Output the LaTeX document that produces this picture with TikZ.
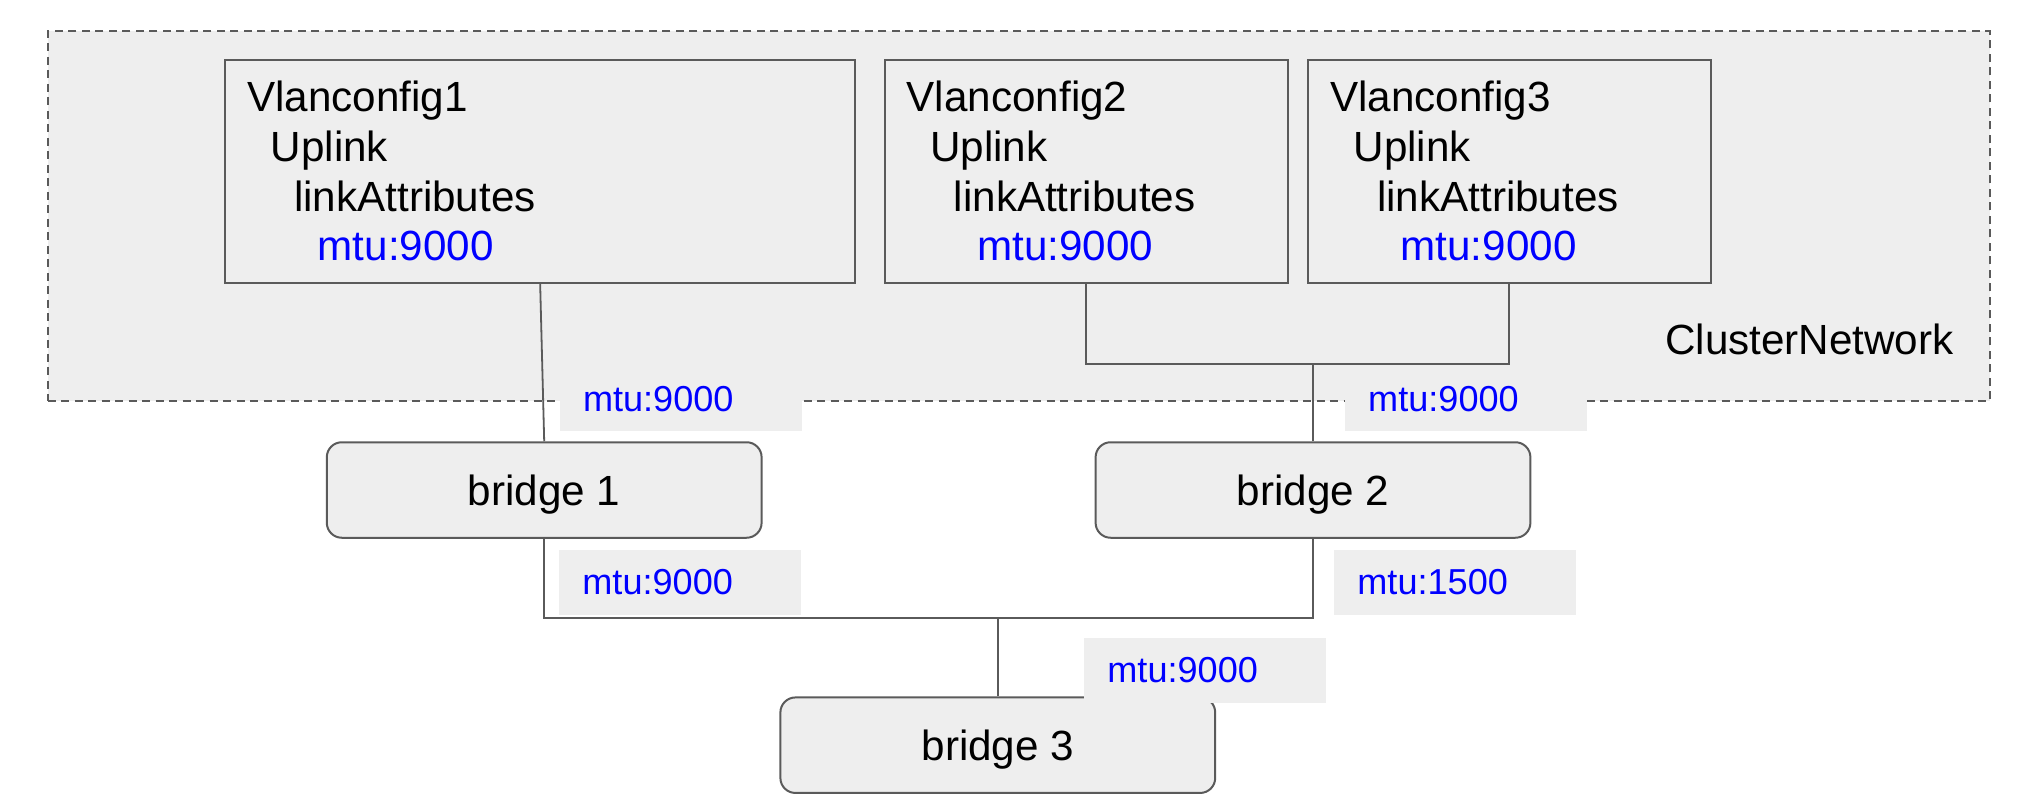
\documentclass[tikz,border=0pt]{standalone}
\usepackage{fontspec}
\setmainfont{Liberation Sans}
\usetikzlibrary{calc}
\definecolor{boxfill}{HTML}{EEEEEE}
\definecolor{edgegray}{HTML}{5A5A5A}
\definecolor{mtublue}{HTML}{0000FF}
\tikzset{
  cluster/.style={draw=edgegray, line width=2pt, dash pattern=on 8pt off 5.5pt, fill=boxfill, inner sep=0pt, minimum width=1942.3pt, minimum height=369.5pt},
  vlanbox/.style={draw=edgegray, line width=2pt, fill=boxfill, inner sep=0pt, minimum height=222.7pt},
  bridgebox/.style={draw=edgegray, line width=2pt, fill=boxfill, rounded corners=15pt, inner sep=0pt, minimum width=434.8pt, minimum height=95.5pt, text height=30pt, text depth=0pt, font=\fontsize{42.2}{50.6}\selectfont},
  wire/.style={draw=edgegray, line width=1.8pt},
  mtulbl/.style={fill=boxfill, text=mtublue, inner xsep=23.5pt, inner ysep=0pt, text width=195pt, align=left, minimum height=65pt, font=\fontsize{36.1}{43}\selectfont},
  txt/.style={inner sep=0pt, anchor=base west, font=\fontsize{42.2}{50.6}\selectfont},
}
\begin{document}
\begin{tikzpicture}[x=1pt,y=-1pt]
\useasboundingbox (0,0) rectangle (2022,802);
\node[cluster] (cn) at (1018.85,216.25) {};
\node[txt] (cnlabel) at (1665,355) {ClusterNetwork};
\foreach \n/\cx/\w in {1/540.15/630.3, 2/1086.2/403.2, 3/1509.3/402.8}{
  \node[vlanbox, minimum width=\w pt] (vc\n) at (\cx,171.35) {};
  \node[txt] (vc\n t1) at ($(vc\n.north west)+(23,52.7)$) {Vlanconfig\n};
  \node[txt] (vc\n t2) at ($(vc\n.north west)+(46.5,102.4)$) {Uplink};
  \node[txt] (vc\n t3) at ($(vc\n.north west)+(70,152.1)$) {linkAttributes};
  \node[txt, text=mtublue] (vc\n t4) at ($(vc\n.north west)+(93.5,201.8)$) {mtu:9000};
}
\node[bridgebox] (b1) at (544.2,490) {bridge 1};
\node[bridgebox] (b2) at (1313,490) {bridge 2};
\node[bridgebox] (b3) at (997.8,745.2) {bridge 3};
% connectors
\draw[wire] (vc1.south) -- (b1.north);
\coordinate (tj) at ($(vc2.south)+(0,80)$);
\draw[wire] (vc2.south) -- (tj) -| (vc3.south);
\draw[wire] (b2.north) -- (b2.north |- tj);
\coordinate (bj) at ($(b1.south)+(0,79.6)$);
\draw[wire] (b1.south) -- (bj) -| (b2.south);
\draw[wire] (b3.north) -- (b3.north |- bj);
% mtu labels
\node[mtulbl] (l1) at (680.5,398.9) {mtu:9000};
\node[mtulbl] (l2) at (1465.7,398.9) {mtu:9000};
\node[mtulbl] (l3) at (679.9,582.2) {mtu:9000};
\node[mtulbl] (l4) at (1454.9,582.2) {mtu:1500};
\node[mtulbl] (l5) at (1204.9,670) {mtu:9000};
\end{tikzpicture}
\end{document}
